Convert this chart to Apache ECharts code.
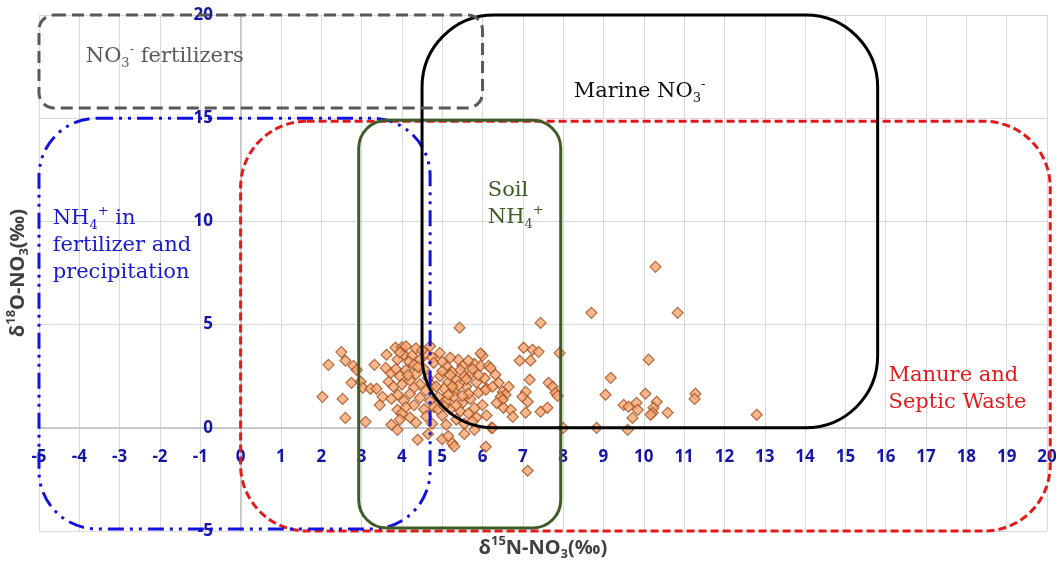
<!DOCTYPE html>
<html>
<head>
<meta charset="utf-8">
<title>δ15N-NO3 vs δ18O-NO3</title>
<script src="https://cdn.jsdelivr.net/npm/echarts@6/dist/echarts.min.js"></script>
<style>
  html, body { margin: 0; padding: 0; background: #ffffff; }
  #chart { width: 1056px; height: 566px; }
</style>
</head>
<body>
<div id="chart"></div>
<script>
// Axis ranges (‰)
const xRange = [-5, 20];
const xStep = 1;
const yRange = [-5, 20];
const yStep = 5;

// Measured nitrate isotopes: [δ15N-NO3, δ18O-NO3] (‰)
const samples = [
  [2.03, 1.5], [2.53, 1.4], [2.5, 3.67], [2.6, 3.25], [2.18, 3.05], [2.8, 3.0], [2.88, 2.8],
  [3.32, 3.05], [2.75, 2.18], [2.98, 2.23], [3.03, 1.94], [3.22, 1.89], [3.37, 1.89], [3.52, 1.5],
  [3.45, 1.1], [3.74, 1.4], [2.6, 0.48], [3.1, 0.29], [3.74, 0.15], [3.89, -0.1],
  [3.62, 3.54], [3.84, 3.88], [3.89, 3.3], [4.0, 3.9], [4.05, 3.55], [4.25, 3.5], [4.18, 3.2],
  [4.35, 3.85], [4.45, 3.3], [4.6, 3.6], [4.7, 3.95], [4.75, 3.4], [3.95, 3.65], [4.5, 3.75],
  [4.1, 3.95], [4.3, 3.05],
  [3.72, 2.66], [3.67, 2.23], [3.79, 1.99], [3.95, 2.5], [4.1, 2.8], [4.2, 2.3], [4.35, 2.6],
  [4.45, 2.1], [4.55, 2.85], [4.65, 2.4], [4.75, 2.05], [4.0, 2.1], [4.3, 1.95], [4.6, 1.8],
  [3.85, 2.85], [4.15, 2.55], [4.4, 2.95], [3.6, 2.9],
  [3.89, 0.87], [3.9, 1.6], [4.05, 1.3], [4.2, 1.65], [4.3, 1.1], [4.45, 1.45], [4.55, 0.9],
  [4.7, 1.3], [4.0, 0.7], [4.2, 0.5], [4.1, 1.0], [4.6, 0.55], [4.8, 1.0], [4.35, 0.25],
  [3.95, 0.4], [4.75, 0.2], [4.39, -0.58], [4.65, -0.3],
  [4.94, 3.63], [4.79, 3.15], [5.1, 3.0], [5.25, 2.7], [5.5, 3.0], [5.8, 3.1], [6.0, 3.5],
  [5.95, 3.0], [5.7, 2.6], [5.55, 2.5], [5.35, 2.3], [5.15, 2.2], [4.95, 2.5], [5.05, 1.9],
  [5.3, 1.8], [5.6, 2.0], [5.85, 2.2], [6.05, 2.4], [6.15, 3.0], [5.95, 3.6],
  [4.9, 1.5], [5.1, 1.3], [5.3, 1.5], [5.5, 1.2], [5.7, 1.4], [5.9, 1.7], [6.1, 1.9],
  [5.2, 0.9], [5.45, 0.8], [5.65, 0.7], [5.0, 0.6], [5.85, 0.5], [6.0, 1.1], [5.35, 0.4],
  [5.55, 0.2], [5.75, 0.3], [6.1, 0.6], [5.2, 2.55], [5.4, 2.05], [5.65, 1.65], [5.15, 1.6],
  [5.75, 2.85], [5.45, 2.8], [5.0, 2.75], [4.85, 2.0], [4.9, 0.9], [5.1, 0.15], [6.22, 0.0],
  [5.4, 3.3], [5.65, 3.25], [5.2, 3.4], [5.9, 2.55], [5.35, 1.1], [5.8, 0.95], [5.05, 1.05],
  [5.6, 2.35], [5.25, 2.0], [5.5, 1.55], [5.0, 3.2], [5.43, 4.85],
  [5.0, -0.55], [5.15, -0.4], [5.25, -0.75], [5.3, -0.9], [6.08, -0.92], [5.55, -0.3], [5.8, -0.1],
  [7.02, 3.88], [7.24, 3.78], [7.39, 3.68], [6.92, 3.25], [7.19, 3.25], [7.91, 3.63],
  [6.32, 2.57], [6.4, 2.18], [6.5, 1.74], [6.65, 1.99], [6.57, 1.6], [6.45, 1.5], [6.5, 1.36],
  [6.52, 0.97], [6.7, 0.87], [6.75, 0.53], [6.08, 1.84], [6.25, 1.99], [7.17, 2.33], [7.07, 1.74],
  [6.99, 1.5], [7.12, 1.26], [7.07, 0.73], [7.44, 0.78], [7.61, 0.97], [7.64, 2.18], [7.74, 1.99],
  [7.81, 1.7], [7.86, 1.55], [6.25, 0.0], [8.0, 0.0], [7.12, -2.08], [7.44, 5.08], [6.35, 1.2],
  [6.2, 2.9],
  [8.7, 5.57], [10.84, 5.57], [10.29, 7.8], [10.12, 3.3], [9.18, 2.42], [9.05, 1.6], [10.04, 1.65],
  [10.32, 1.26], [9.5, 1.11], [9.62, 1.02], [9.82, 1.21], [9.85, 0.87], [10.24, 0.97], [10.22, 0.73],
  [10.17, 0.63], [10.59, 0.73], [9.72, 0.48], [8.83, 0.0], [9.6, -0.1], [11.28, 1.65], [11.26, 1.4],
  [12.8, 0.63]
];

// Nitrate source fields: [xMin, yMin, xMax, yMax] (‰)
const sourceNames = [
  'Manure and Septic Waste',
  'NH4+ in fertilizer and precipitation',
  'Soil NH4+',
  'Marine NO3-',
  'NO3- fertilizers'
];
const sourceBounds = [
  [0, -5, 20.08, 14.85],
  [-5, -4.9, 4.7, 15],
  [2.93, -4.85, 7.94, 14.9],
  [4.5, 0, 15.8, 20],
  [-5, 15.5, 6, 20]
];
// Where each field's caption sits (left edge, vertical middle), in ‰
const sourceLabelAnchors = [
  [16.07, 1.87],
  [-4.66, 8.82],
  [6.13, 10.85],
  [8.26, 16.28],
  [-3.84, 18.0]
];
const sourceCaptions = [
  '{m|Manure and}\n{m|Septic Waste}',
  '{m|NH}{sb|4}{sp|+}{m| in}\n{m|fertilizer and}\n{m|precipitation}',
  '{m|Soil}\n{m|NH}{sb|4}{sp|+}',
  '{m|Marine NO}{sb|3}{sp|-}',
  '{m|NO}{sb|3}{sp|-}{m| fertilizers}'
];

// Outline look of each field
const sourceLooks = [
  { stroke: '#e31a1c', dash: [8, 4], radius: 66, text: '#e31a1c' },
  { stroke: '#1212e0', dash: [16, 6, 3, 6, 3, 6], radius: 58, text: '#1a1ac8' },
  { stroke: '#3e5b28', dash: null, radius: 28, text: '#3e5b28' },
  { stroke: '#000000', dash: null, radius: 72, text: '#111111' },
  { stroke: '#595959', dash: [12, 6], radius: 15, text: '#5a5a5a' }
];

const tickColor = '#1616a6';
const serif = '"DejaVu Serif", "Liberation Serif", serif';
const sans = '"Noto Sans", sans-serif';

function captionRich(color) {
  return {
    m: { fontFamily: serif, fontSize: 21, lineHeight: 27, fill: color },
    sb: { fontFamily: serif, fontSize: 13, lineHeight: 14, fill: color, verticalAlign: 'bottom' },
    sp: { fontFamily: serif, fontSize: 13, lineHeight: 12, fill: color, verticalAlign: 'top' }
  };
}

const regionSeries = sourceBounds.map((b, i) => {
  const look = sourceLooks[i];
  return {
    type: 'custom',
    name: sourceNames[i],
    coordinateSystem: 'cartesian2d',
    silent: true,
    z: 3,
    encode: { x: [0, 2], y: [1, 3] },
    data: [b],
    renderItem: function (params, api) {
      const tl = api.coord([api.value(0), api.value(3)]);
      const br = api.coord([api.value(2), api.value(1)]);
      return {
        type: 'rect',
        shape: { x: tl[0], y: tl[1], width: br[0] - tl[0], height: br[1] - tl[1], r: look.radius },
        style: {
          fill: 'none',
          stroke: look.stroke,
          lineWidth: 3,
          lineDash: look.dash || null
        }
      };
    }
  };
});

const captionSeries = sourceLabelAnchors.map((a, i) => ({
  type: 'custom',
  name: sourceNames[i] + ' label',
  coordinateSystem: 'cartesian2d',
  silent: true,
  z: 5,
  encode: { x: 0, y: 1 },
  data: [a],
  renderItem: function (params, api) {
    const p = api.coord([api.value(0), api.value(1)]);
    return {
      type: 'text',
      x: p[0],
      y: p[1],
      style: {
        legacy: false,
        text: sourceCaptions[i],
        rich: captionRich(sourceLooks[i].text),
        fill: sourceLooks[i].text,
        align: 'left',
        verticalAlign: 'middle'
      }
    };
  }
}));

const nameRich = {
  b: { fontFamily: sans, fontWeight: 'bold', fontSize: 20, color: '#404040', lineHeight: 26 },
  sup: { fontFamily: sans, fontWeight: 'bold', fontSize: 13, color: '#404040', lineHeight: 14, verticalAlign: 'top' },
  sub: { fontFamily: sans, fontWeight: 'bold', fontSize: 13, color: '#404040', lineHeight: 16, verticalAlign: 'bottom' }
};

const chart = echarts.init(document.getElementById('chart'), null, { renderer: 'canvas' });
chart.setOption({
  animation: false,
  backgroundColor: '#ffffff',
  grid: { left: 39, right: 9, top: 15, bottom: 35, containLabel: false, outerBoundsMode: 'none' },
  xAxis: {
    type: 'value',
    min: xRange[0],
    max: xRange[1],
    interval: xStep,
    axisLine: { onZero: true, lineStyle: { color: '#bfbfbf', width: 1.5 } },
    axisTick: { show: false },
    axisLabel: {
      interval: 0,
      margin: -82,
      color: tickColor,
      fontFamily: sans,
      fontWeight: 'bold',
      fontSize: 17
    },
    splitLine: { show: true, lineStyle: { color: '#d9d9d9', width: 1 } },
    name: '{b|δ}{sup|15}{b|N-NO}{sub|3}{b|(‰)}',
    nameLocation: 'middle',
    nameGap: 4,
    nameTextStyle: { rich: nameRich }
  },
  yAxis: {
    type: 'value',
    min: yRange[0],
    max: yRange[1],
    interval: yStep,
    axisLine: { onZero: true, lineStyle: { color: '#bfbfbf', width: 1.5 } },
    axisTick: { show: false },
    axisLabel: {
      margin: -174,
      color: tickColor,
      fontFamily: sans,
      fontWeight: 'bold',
      fontSize: 17
    },
    splitLine: { show: true, lineStyle: { color: '#d9d9d9', width: 1 } },
    name: '{b|δ}{sup|18}{b|O-NO}{sub|3}{b|(‰)}',
    nameLocation: 'middle',
    nameGap: 8,
    nameTextStyle: { rich: nameRich }
  },
  series: [
    {
      type: 'scatter',
      name: 'Samples',
      z: 2,
      symbol: 'diamond',
      symbolSize: 11,
      itemStyle: { color: '#f6a673', borderColor: '#a04e1c', borderWidth: 1.2 },
      data: samples
    }
  ].concat(regionSeries, captionSeries)
});
</script>
</body>
</html>
